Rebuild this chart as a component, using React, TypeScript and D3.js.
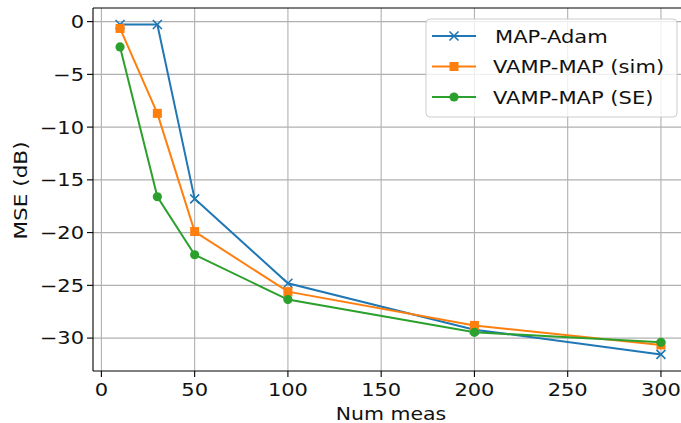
import React from "react";
import * as d3 from "d3";

const xValues = [10, 30, 50, 100, 200, 300];
const mapAdam = [-0.27, -0.27, -16.8, -24.8, -29.2, -31.55];
const vampSim = [-0.65, -8.7, -19.9, -25.6, -28.8, -30.65];
const vampSE = [-2.4, -16.6, -22.1, -26.35, -29.45, -30.4];
const xTicks = [0, 50, 100, 150, 200, 250, 300];
const yTicks = [0, -5, -10, -15, -20, -25, -30];
const seriesNames = ["MAP-Adam", "VAMP-MAP (sim)", "VAMP-MAP (SE)"];
const seriesColors = ["#1f77b4", "#ff7f0e", "#2ca02c"];
const seriesMarkers = ["x", "square", "circle"];

const W = 681;
const H = 423;
const left = 93;
const right = 688;
const top = 8;
const bottom = 371;
const font = "DejaVu Sans, sans-serif";
const SX = 1.2;

function fmt(t: number) {
  return t < 0 ? "\u2212" + Math.abs(t) : String(t);
}

function Txt({
  x,
  y,
  size,
  anchor,
  sx,
  rotate,
  children,
}: {
  x: number;
  y: number;
  size: number;
  anchor: string;
  sx: number;
  rotate?: boolean;
  children: React.ReactNode;
}) {
  const tr = rotate
    ? `translate(${x},${y}) rotate(-90) scale(${sx},1)`
    : `translate(${x},${y}) scale(${sx},1)`;
  return (
    <text transform={tr} textAnchor={anchor} fontFamily={font} fontSize={size} fill="#111">
      {children}
    </text>
  );
}

function Marker({ type, x, y, color }: { type: string; x: number; y: number; color: string }) {
  if (type === "x") {
    const r = 4.5;
    return (
      <path
        d={`M${x - r},${y - r}L${x + r},${y + r}M${x - r},${y + r}L${x + r},${y - r}`}
        stroke={color}
        strokeWidth={1.6}
        fill="none"
      />
    );
  }
  if (type === "square") {
    const s = 9;
    return <rect x={x - s / 2} y={y - s / 2} width={s} height={s} fill={color} />;
  }
  return <circle cx={x} cy={y} r={4.6} fill={color} />;
}

export default function App() {
  const x = d3.scaleLinear().domain([-4.5, 314.5]).range([left, right]);
  const y = d3.scaleLinear().domain([1.29, -33.12]).range([top, bottom]);
  const line = d3
    .line<[number, number]>()
    .x((d) => x(d[0]))
    .y((d) => y(d[1]));
  const allSeries = [mapAdam, vampSim, vampSE];

  const legX = 426;
  const legY = 19;
  const legW = 251;
  const legH = 98;
  const rowY = [36, 66.5, 97];

  return (
    <svg width={W} height={H} style={{ position: "absolute", left: 0, top: 0, background: "#fff" }}>
      <defs>
        <clipPath id="plotclip">
          <rect x={left} y={top} width={right - left} height={bottom - top} />
        </clipPath>
      </defs>
      <rect width={W} height={H} fill="#fff" />
      <g stroke="#b0b0b0" strokeWidth={1.1}>
        {xTicks.map((t) => (
          <line key={"gx" + t} x1={x(t)} x2={x(t)} y1={top} y2={bottom} />
        ))}
        {yTicks.map((t) => (
          <line key={"gy" + t} x1={left} x2={right} y1={y(t)} y2={y(t)} />
        ))}
      </g>
      <g clipPath="url(#plotclip)">
        {allSeries.map((s, i) => {
          const pts: [number, number][] = xValues.map((xv, j) => [xv, s[j]]);
          return (
            <g key={"s" + i}>
              <path d={line(pts) || ""} fill="none" stroke={seriesColors[i]} strokeWidth={2} />
              {pts.map((p, j) => (
                <Marker key={j} type={seriesMarkers[i]} x={x(p[0])} y={y(p[1])} color={seriesColors[i]} />
              ))}
            </g>
          );
        })}
      </g>
      <g stroke="#000" strokeWidth={1.1} fill="none">
        <line x1={left} x2={left} y1={top} y2={bottom} />
        <line x1={left} x2={right} y1={bottom} y2={bottom} />
        <line x1={left} x2={right} y1={top} y2={top} />
        <line x1={right} x2={right} y1={top} y2={bottom} />
      </g>
      {xTicks.map((t) => (
        <g key={"xt" + t}>
          <line x1={x(t)} x2={x(t)} y1={bottom} y2={bottom + 6} stroke="#000" strokeWidth={1.1} />
          <Txt x={x(t)} y={396} size={17.5} anchor="middle" sx={SX}>
            {fmt(t)}
          </Txt>
        </g>
      ))}
      {yTicks.map((t) => (
        <g key={"yt" + t}>
          <line x1={left - 6} x2={left} y1={y(t)} y2={y(t)} stroke="#000" strokeWidth={1.1} />
          <Txt x={84} y={y(t) + 6.4} size={17.5} anchor="end" sx={SX}>
            {fmt(t)}
          </Txt>
        </g>
      ))}
      <Txt x={391} y={420} size={17.5} anchor="middle" sx={1.17}>
        Num meas
      </Txt>
      <Txt x={27} y={190.5} size={18} anchor="middle" sx={1.2} rotate>
        MSE (dB)
      </Txt>
      <g>
        <rect
          x={legX}
          y={legY}
          width={legW}
          height={legH}
          rx={4}
          ry={4}
          fill="#fff"
          fillOpacity={0.8}
          stroke="#cccccc"
          strokeWidth={1}
        />
        {seriesNames.map((n, i) => (
          <g key={"lg" + i}>
            <line x1={432} x2={476} y1={rowY[i]} y2={rowY[i]} stroke={seriesColors[i]} strokeWidth={2} />
            <Marker type={seriesMarkers[i]} x={454} y={rowY[i]} color={seriesColors[i]} />
            <Txt x={i === 0 ? 495 : 493} y={rowY[i] + 6.5} size={18} anchor="start" sx={1.17}>
              {n}
            </Txt>
          </g>
        ))}
      </g>
    </svg>
  );
}
